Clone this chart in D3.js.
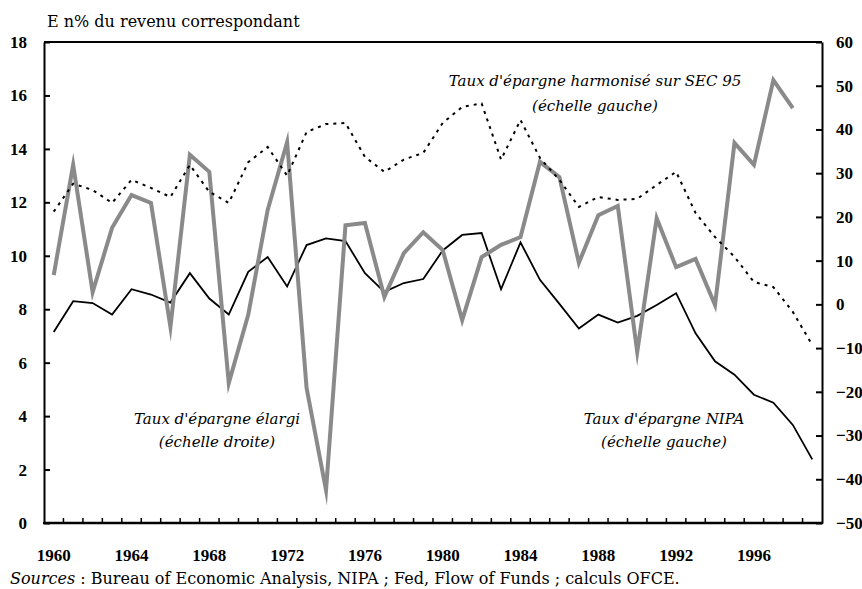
<!doctype html>
<html lang='fr'>
<head>
<meta charset='UTF-8'>
<title>Taux d'épargne</title>
<style>
  body { margin: 0; background: #fff; }
  svg { display: block; font-family: 'DejaVu Serif', serif; }
  .axis path, .axis line { fill: none; stroke: #000; stroke-width: 2px; }
  .axis text {
    font-family: 'Liberation Serif', serif;
    font-weight: bold;
    font-size: 17px;
    fill: #000;
  }
  .note { font-style: italic; font-size: 15px; fill: #000; }
  .title { font-size: 16px; fill: #000; }
  .src { font-size: 16px; fill: #000; }
</style>
</head>
<body>
<script src='https://cdn.jsdelivr.net/npm/d3@7'></script>
<script>
  // valeurs
  const years = d3.range(1960, 2000)

  // Taux d'épargne NIPA (échelle gauche)
  const nipa = [7.15, 8.3, 8.23, 7.8, 8.75, 8.55, 8.25, 9.35, 8.4, 7.8,
    9.4, 9.95, 8.85, 10.4, 10.65, 10.55, 9.35, 8.65, 8.98, 9.13,
    10.2, 10.78, 10.85, 8.75, 10.5, 9.1, 8.2, 7.28, 7.8, 7.5,
    7.75, 8.16, 8.6, 7.1, 6.05, 5.55, 4.8, 4.5, 3.67, 2.38]

  // Taux d'épargne harmonisé sur SEC 95 (échelle gauche)
  const sec95 = [11.65, 12.7, 12.46, 11.98, 12.84, 12.54, 12.2, 13.4, 12.39, 11.98,
    13.5, 14.07, 13.0, 14.63, 14.93, 14.97, 13.7, 13.14, 13.6, 13.85,
    14.97, 15.57, 15.7, 13.6, 15.08, 13.66, 12.84, 11.83, 12.2, 12.09,
    12.13, 12.65, 13.14, 11.6, 10.7, 9.96, 9.02, 8.83, 7.9, 6.66]

  // Taux d'épargne élargi (échelle droite), 1960-1998
  const elargi = [6.7, 31.9, 2.8, 17.5, 25.0, 23.2, -5.2, 34.2, 30.3, -18.0,
    -2.4, 21.6, 37.1, -19.1, -42.5, 18.1, 18.6, 1.7, 11.7, 16.5,
    12.4, -3.6, 10.8, 13.6, 15.4, 32.6, 29.1, 9.5, 20.4, 22.5,
    -10.9, 19.7, 8.5, 10.4, -0.15, 36.9, 31.9, 51.3, 44.9]

  const leftTicks = d3.range(0, 19, 2)
  const rightTicks = d3.range(-50, 61, 10)
  const yearLabels = d3.range(1960, 2000, 4)

  const W = 862, H = 589
  const margin = {top: 42, right: 40, bottom: 66, left: 44}

  const svg = d3.select('body').append('svg')
    .attr('width', W)
    .attr('height', H)

  const x = d3.scaleBand()
    .domain(years)
    .range([margin.left, W - margin.right])
    .paddingInner(0).paddingOuter(0)

  const cx = d => x(d) + x.bandwidth() / 2

  const yL = d3.scaleLinear().domain([0, 18]).range([H - margin.bottom, margin.top])
  const yR = d3.scaleLinear().domain([-50, 60]).range([H - margin.bottom, margin.top])

  // cadre haut
  svg.append('line')
    .attr('x1', margin.left).attr('x2', W - margin.right)
    .attr('y1', margin.top).attr('y2', margin.top)
    .attr('stroke', '#000').attr('stroke-width', 2)

  svg.append('g')
    .attr('class', 'axis')
    .attr('transform', `translate(${margin.left},0)`)
    .call(d3.axisLeft(yL).tickValues(leftTicks).tickSizeInner(-6).tickSizeOuter(0).tickPadding(17))

  svg.append('g')
    .attr('class', 'axis')
    .attr('transform', `translate(${W - margin.right},0)`)
    .call(d3.axisRight(yR).tickValues(rightTicks).tickSizeInner(-6).tickSizeOuter(0).tickPadding(14))

  // axe des abscisses : libellés tous les 4 ans
  const xAxis = svg.append('g')
    .attr('class', 'axis')
    .attr('transform', `translate(0,${H - margin.bottom})`)
    .call(d3.axisBottom(x).tickValues(yearLabels).tickSize(0).tickPadding(26))
  xAxis.select('.domain').remove()

  // graduations entre les années
  svg.append('g')
    .selectAll('line')
    .data(years.slice(1))
    .join('line')
    .attr('x1', d => x(d)).attr('x2', d => x(d))
    .attr('y1', H - margin.bottom).attr('y2', H - margin.bottom - 5)
    .attr('stroke', '#000').attr('stroke-width', 1.5)

  svg.append('line')
    .attr('x1', margin.left - 1).attr('x2', W - margin.right + 1)
    .attr('y1', H - margin.bottom).attr('y2', H - margin.bottom)
    .attr('stroke', '#000').attr('stroke-width', 2.5)

  const lineL = d3.line().x((d, i) => cx(years[i])).y(d => yL(d))
  const lineR = d3.line().x((d, i) => cx(years[i])).y(d => yR(d))

  svg.append('path')
    .datum(nipa)
    .attr('d', lineL)
    .attr('fill', 'none')
    .attr('stroke', '#000')
    .attr('stroke-width', 1.8)

  svg.append('path')
    .datum(elargi)
    .attr('d', lineR)
    .attr('fill', 'none')
    .attr('stroke', '#8a8a8a')
    .attr('stroke-width', 4)
    .attr('stroke-linejoin', 'miter')
    .attr('stroke-miterlimit', 20)

  svg.append('path')
    .datum(sec95)
    .attr('d', lineL)
    .attr('fill', 'none')
    .attr('stroke', '#000')
    .attr('stroke-width', 2)
    .attr('stroke-dasharray', '3,5')

  // textes
  svg.append('text').attr('class', 'title')
    .attr('x', 47).attr('y', 27)
    .text('E n% du revenu correspondant')

  const notes = [
    {x: 595, y: 86, t: "Taux d'épargne harmonisé sur SEC 95"},
    {x: 595, y: 111, t: '(échelle gauche)'},
    {x: 217, y: 424, t: "Taux d'épargne élargi"},
    {x: 217, y: 447, t: '(échelle droite)'},
    {x: 664, y: 424, t: "Taux d'épargne NIPA"},
    {x: 664, y: 447, t: '(échelle gauche)'}
  ]
  svg.append('g').selectAll('text')
    .data(notes)
    .join('text')
    .attr('class', 'note')
    .attr('text-anchor', 'middle')
    .attr('x', d => d.x).attr('y', d => d.y)
    .text(d => d.t)

  const src = svg.append('text').attr('class', 'src')
    .attr('x', 10).attr('y', 584)
  src.append('tspan').attr('font-style', 'italic').text('Sources')
  src.append('tspan').text(' : Bureau of Economic Analysis, NIPA ; Fed, Flow of Funds ; calculs OFCE.')
</script>
</body>
</html>
